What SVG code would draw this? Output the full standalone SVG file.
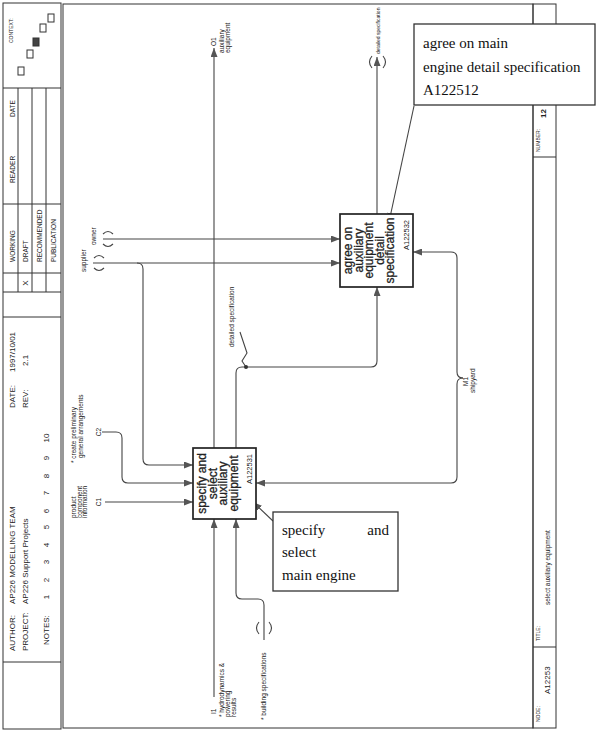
<svg xmlns="http://www.w3.org/2000/svg" width="600" height="733" viewBox="0 0 600 733">
<defs>
<style>
.fr{fill:none;stroke:#333;stroke-width:1}
.ln{fill:none;stroke:#444;stroke-width:1.1}
.box{fill:#fff;stroke:#222;stroke-width:1.7}
.cb{fill:#fff;stroke:#333;stroke-width:1.3}
.t{font-family:"Liberation Sans",Arial,sans-serif;fill:#222}
.sf{font-family:"Liberation Serif","Times New Roman",serif;fill:#111;font-size:15px}
.bt{font-size:12px;text-anchor:middle;stroke:#222;stroke-width:0.3}
.an{font-size:7.5px;text-anchor:end}
.sm{font-size:6.5px}
.tb{font-size:8px}
.st{font-size:6.5px}
.tiny{font-size:5px}
.mid{text-anchor:middle}
</style>
<marker id="ah" markerWidth="9" markerHeight="7" refX="9" refY="3.5" orient="auto" markerUnits="userSpaceOnUse">
<path d="M0,0 L9,3.5 L0,7 z" fill="#555"/>
</marker>
</defs>
<rect width="600" height="733" fill="#fff"/>

<g id="title-block">
<rect class="fr" x="3" y="3" width="58" height="726"/>
<line class="fr" x1="3" y1="88" x2="61" y2="88"/>
<line class="fr" x1="3" y1="204" x2="61" y2="204"/>
<line class="fr" x1="3" y1="273" x2="61" y2="273"/>
<line class="fr" x1="3" y1="292" x2="61" y2="292"/>
<line class="fr" x1="3" y1="317" x2="61" y2="317"/>
<line class="fr" x1="3" y1="662" x2="61" y2="662"/>
<line class="fr" x1="18" y1="88" x2="18" y2="292"/>
<line class="fr" x1="32" y1="88" x2="32" y2="292"/>
<line class="fr" x1="46" y1="88" x2="46" y2="292"/>
<text class="t tiny" transform="translate(13,43) rotate(-90)">CONTEXT:</text>
<rect class="fr" x="18" y="67" width="6" height="8"/>
<rect class="fr" x="27" y="50" width="6" height="8"/>
<rect x="33" y="38" width="6" height="8" fill="#444" stroke="#333"/>
<rect class="fr" x="40" y="24" width="6" height="8"/>
<rect class="fr" x="48" y="14" width="6" height="8"/>
<text class="t st" transform="translate(15,117) rotate(-90)">DATE</text>
<text class="t st" transform="translate(15,183) rotate(-90)">READER</text>
<text class="t st" transform="translate(15,262) rotate(-90)">WORKING</text>
<text class="t st" transform="translate(28,262) rotate(-90)">DRAFT</text>
<text class="t st" transform="translate(42,262) rotate(-90)">RECOMMENDED</text>
<text class="t st" transform="translate(56,262) rotate(-90)">PUBLICATION</text>
<text class="t tb mid" transform="translate(28,283) rotate(-90)">X</text>
<text class="t tb" transform="translate(15,408) rotate(-90)">DATE:</text>
<text class="t tb" transform="translate(15,372) rotate(-90)">1997/10/01</text>
<text class="t tb" transform="translate(28,408) rotate(-90)">REV:</text>
<text class="t tb" transform="translate(28,366) rotate(-90)">2.1</text>
<text class="t tb" transform="translate(15,651) rotate(-90)">AUTHOR:</text>
<text class="t tb" transform="translate(15,604) rotate(-90)">AP226  MODELLING TEAM</text>
<text class="t tb" transform="translate(28,651) rotate(-90)">PROJECT:</text>
<text class="t tb" transform="translate(28,604) rotate(-90)">AP226 Support Projects</text>
<text class="t tb" transform="translate(49,645) rotate(-90)">NOTES:</text>
<text class="t tb mid" transform="translate(49,597) rotate(-90)">1</text>
<text class="t tb mid" transform="translate(49,580) rotate(-90)">2</text>
<text class="t tb mid" transform="translate(49,562) rotate(-90)">3</text>
<text class="t tb mid" transform="translate(49,545) rotate(-90)">4</text>
<text class="t tb mid" transform="translate(49,527) rotate(-90)">5</text>
<text class="t tb mid" transform="translate(49,511) rotate(-90)">6</text>
<text class="t tb mid" transform="translate(49,493) rotate(-90)">7</text>
<text class="t tb mid" transform="translate(49,476) rotate(-90)">8</text>
<text class="t tb mid" transform="translate(49,458) rotate(-90)">9</text>
<text class="t tb mid" transform="translate(49,438) rotate(-90)">10</text>
</g>

<g id="frame">
<rect class="fr" x="63" y="4" width="470" height="724"/>
<rect class="fr" x="533" y="4" width="23" height="724"/>
<line class="fr" x1="533" y1="157" x2="556" y2="157"/>
<line class="fr" x1="533" y1="647" x2="556" y2="647"/>
<text class="t tiny" transform="translate(540,152) rotate(-90)">NUMBER:</text>
<text class="t tb" font-weight="bold" transform="translate(546,118) rotate(-90)">12</text>
<text class="t tiny" transform="translate(540,641) rotate(-90)">TITLE:</text>
<text class="t sm" transform="translate(550,605) rotate(-90)">select auxiliary equipment</text>
<text class="t tiny" transform="translate(540,722) rotate(-90)">NODE:</text>
<text class="t tb" transform="translate(550,694) rotate(-90)">A12253</text>
</g>

<g id="connectors">
<path class="ln" d="M103,239 H340" marker-end="url(#ah)"/>
<path class="ln" d="M93,263 H340" marker-end="url(#ah)"/>
<path class="ln" d="M137,263 Q143,263 143,269 V459 Q143,465 149,465 H193" marker-end="url(#ah)"/>
<path class="ln" d="M102,432 H116 Q122,432 122,438 V477 Q122,483 128,483 H193" marker-end="url(#ah)"/>
<path class="ln" d="M105,502 H193" marker-end="url(#ah)"/>
<path class="ln" d="M214,448 V48" marker-end="url(#ah)"/>
<path class="ln" d="M236,448 V373 Q236,367 242,367 H371 Q377,367 377,361 V287" marker-end="url(#ah)"/>
<path class="ln" d="M246,367 L242,361 L247,353 L240,332"/>
<circle cx="246" cy="367" r="2" fill="#333"/>
<path class="ln" d="M377,214 V57" marker-end="url(#ah)"/>
<path class="ln" d="M214,697 V519" marker-end="url(#ah)"/>
<path class="ln" d="M264,640 V605 Q264,599 258,599 H242 Q236,599 236,593 V519" marker-end="url(#ah)"/>
<path class="ln" d="M463,378 Q457,378 457,372 V258 Q457,252 451,252 H413" marker-end="url(#ah)"/>
<path class="ln" d="M463,378 Q457,378 457,384 V477 Q457,483 451,483 H256" marker-end="url(#ah)"/>
<path class="ln" d="M414,106 L389,222" marker-end="url(#ah)"/>
<path class="ln" d="M273,521 L253,502" marker-end="url(#ah)"/>
<path class="ln" d="M103,234 Q108,229 113,234 M103,244 Q108,249 113,244"/>
<path class="ln" d="M94,258 Q99,253 104,258 M94,268 Q99,273 104,268"/>
<path class="ln" d="M259,622 Q254,628 259,634 M269,622 Q274,628 269,634"/>
<path class="ln" d="M372,56 Q367,62 372,68 M383,56 Q388,62 383,68"/>
</g>

<g id="labels">
<text class="t sm" transform="translate(96,245) rotate(-90)">owner</text>
<text class="t sm" transform="translate(86,272) rotate(-90)">supplier</text>
<text class="t sm" transform="translate(76,463) rotate(-90)">* create preliminary</text>
<text class="t sm" transform="translate(83,458) rotate(-90)">general arrangements</text>
<text class="t sm mid" transform="translate(101,432) rotate(-90)">C2</text>
<text class="t sm" transform="translate(76,518) rotate(-90)">product</text>
<text class="t sm" transform="translate(81.5,518) rotate(-90)">component</text>
<text class="t sm" transform="translate(87,518) rotate(-90)">information</text>
<text class="t sm mid" transform="translate(101,502) rotate(-90)">C1</text>
<text class="t sm" transform="translate(216,46) rotate(-90)">O1</text>
<text class="t sm" transform="translate(224,53) rotate(-90)">auxiliary</text>
<text class="t sm" transform="translate(230,53) rotate(-90)">equipment</text>
<text class="t tiny" transform="translate(380,54) rotate(-90)">detailed specification</text>
<text class="t sm" transform="translate(234,347) rotate(-90)">detailed specification</text>
<text class="t sm" transform="translate(216,714) rotate(-90)">I1</text>
<text class="t sm" transform="translate(224,717) rotate(-90)">* hydrodynamics &amp;</text>
<text class="t sm" transform="translate(230,717) rotate(-90)">powering</text>
<text class="t sm" transform="translate(236,717) rotate(-90)">results</text>
<text class="t sm" transform="translate(266,720) rotate(-90)">* building specifications</text>
<text class="t sm" transform="translate(468,386) rotate(-90)">M1</text>
<text class="t sm" transform="translate(475,393) rotate(-90)">shipyard</text>
</g>

<g id="A122531">
<rect class="box" x="193" y="448" width="63" height="71"/>
<text class="t bt" transform="translate(206,483.5) rotate(-90)">specify and</text>
<text class="t bt" transform="translate(216.5,483.5) rotate(-90)">select</text>
<text class="t bt" transform="translate(227,483.5) rotate(-90)">auxiliary</text>
<text class="t bt" transform="translate(237.5,483.5) rotate(-90)">equipment</text>
<text class="t an" transform="translate(252,454) rotate(-90)">A122531</text>
</g>

<g id="A122532">
<rect class="box" x="340" y="214" width="73" height="73"/>
<text class="t bt" transform="translate(352,250.5) rotate(-90)">agree on</text>
<text class="t bt" transform="translate(362.5,250.5) rotate(-90)">auxiliary</text>
<text class="t bt" transform="translate(373,250.5) rotate(-90)">equipment</text>
<text class="t bt" transform="translate(383.5,250.5) rotate(-90)">detail</text>
<text class="t bt" transform="translate(394,250.5) rotate(-90)">specification</text>
<text class="t an" transform="translate(409,220) rotate(-90)">A122532</text>
</g>

<g id="note-main-engine-spec">
<rect class="cb" x="414" y="24" width="181" height="81"/>
<text class="sf" x="423" y="48">agree on main</text>
<text class="sf" x="423" y="72">engine detail specification</text>
<text class="sf" x="423" y="95">A122512</text>
</g>

<g id="note-main-engine">
<rect class="cb" x="273" y="512" width="125" height="79"/>
<text class="sf" x="282" y="535">specify</text>
<text class="sf" x="389" y="535" text-anchor="end">and</text>
<text class="sf" x="282" y="557">select</text>
<text class="sf" x="282" y="580">main engine</text>
</g>
</svg>
